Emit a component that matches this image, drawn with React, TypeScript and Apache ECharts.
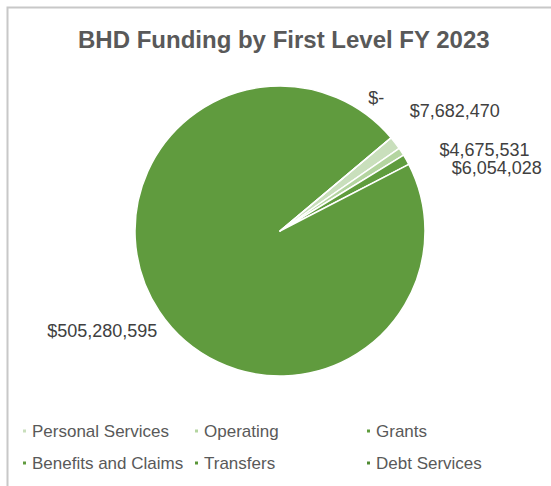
import React, { useEffect, useRef } from "react";
import * as echarts from "echarts";

const categories = [
  "Personal Services",
  "Operating",
  "Grants",
  "Benefits and Claims",
  "Transfers",
  "Debt Services",
];
const funding = [7682470, 4675531, 6054028, 505280595, 0, 0];
const sliceColors = ["#c9dfbc", "#b4d5a0", "#5f9c3d", "#609b3e", "#5a9638", "#4f8a32"];
const showLabel = [true, true, true, true, false, true];

// label nudges (dx, dy) relative to the library's outside label placement
const labelNudges: [number, number][] = [
  [0, -25],
  [23, 5],
  [30, 14],
  [13, 13],
  [0, 0],
  [-37, -32],
];

const FONT = "'Liberation Sans', Arial, sans-serif";

function fmt(v: number): string {
  return v === 0 ? "$-" : "$" + v.toLocaleString("en-US");
}

export default function App() {
  const ref = useRef<HTMLDivElement>(null);
  useEffect(() => {
    document.body.style.margin = "0";
    if (!ref.current) return;
    const chart = echarts.init(ref.current, undefined, { renderer: "svg" });
    const legendCols = [
      { left: 21, items: [categories[0], categories[3]] },
      { left: 193, items: [categories[1], categories[4]] },
      { left: 365, items: [categories[2], categories[5]] },
    ];
    chart.setOption({
      animation: false,
      backgroundColor: "#ffffff",
      color: sliceColors,
      title: {
        text: "BHD Funding by First Level FY 2023",
        left: 78,
        top: 27,
        padding: 0,
        textStyle: {
          fontFamily: FONT,
          fontSize: 24,
          fontWeight: "bold",
          color: "#595959",
          lineHeight: 24,
        },
      },
      graphic: [
        {
          type: "rect",
          shape: { x: 7.5, y: 7.5, width: 700, height: 700 },
          style: { fill: "none", stroke: "#c8c8c8", lineWidth: 2 },
          silent: true,
        },
      ],
      legend: legendCols.map((c) => ({
        data: c.items,
        orient: "vertical",
        left: c.left,
        top: 421,
        padding: 0,
        itemWidth: 5,
        itemHeight: 5,
        itemGap: 12,
        icon: "rect",
        selectedMode: false,
        textStyle: {
          fontFamily: FONT,
          fontSize: 17,
          color: "#595959",
          lineHeight: 20,
        },
      })),
      series: [
        {
          type: "pie",
          center: [280, 231],
          radius: [0, 145],
          startAngle: 40,
          clockwise: true,
          avoidLabelOverlap: false,
          itemStyle: { borderColor: "#ffffff", borderWidth: 1.5 },
          label: {
            show: true,
            position: "outside",
            formatter: (p: any) => fmt(p.value),
            fontFamily: FONT,
            fontSize: 18,
            color: "#404040",
          },
          labelLine: { show: false, length: 12, length2: 0 },
          labelLayout: (params: any) => {
            const n = labelNudges[params.dataIndex] || [0, 0];
            return { dx: n[0], dy: n[1] };
          },
          emphasis: { disabled: true },
          data: categories.map((name, i) => ({
            name,
            value: funding[i],
            label: { show: showLabel[i] },
          })),
        },
      ],
    });
    return () => chart.dispose();
  }, []);
  return <div ref={ref} style={{ width: 551, height: 486 }} />;
}
